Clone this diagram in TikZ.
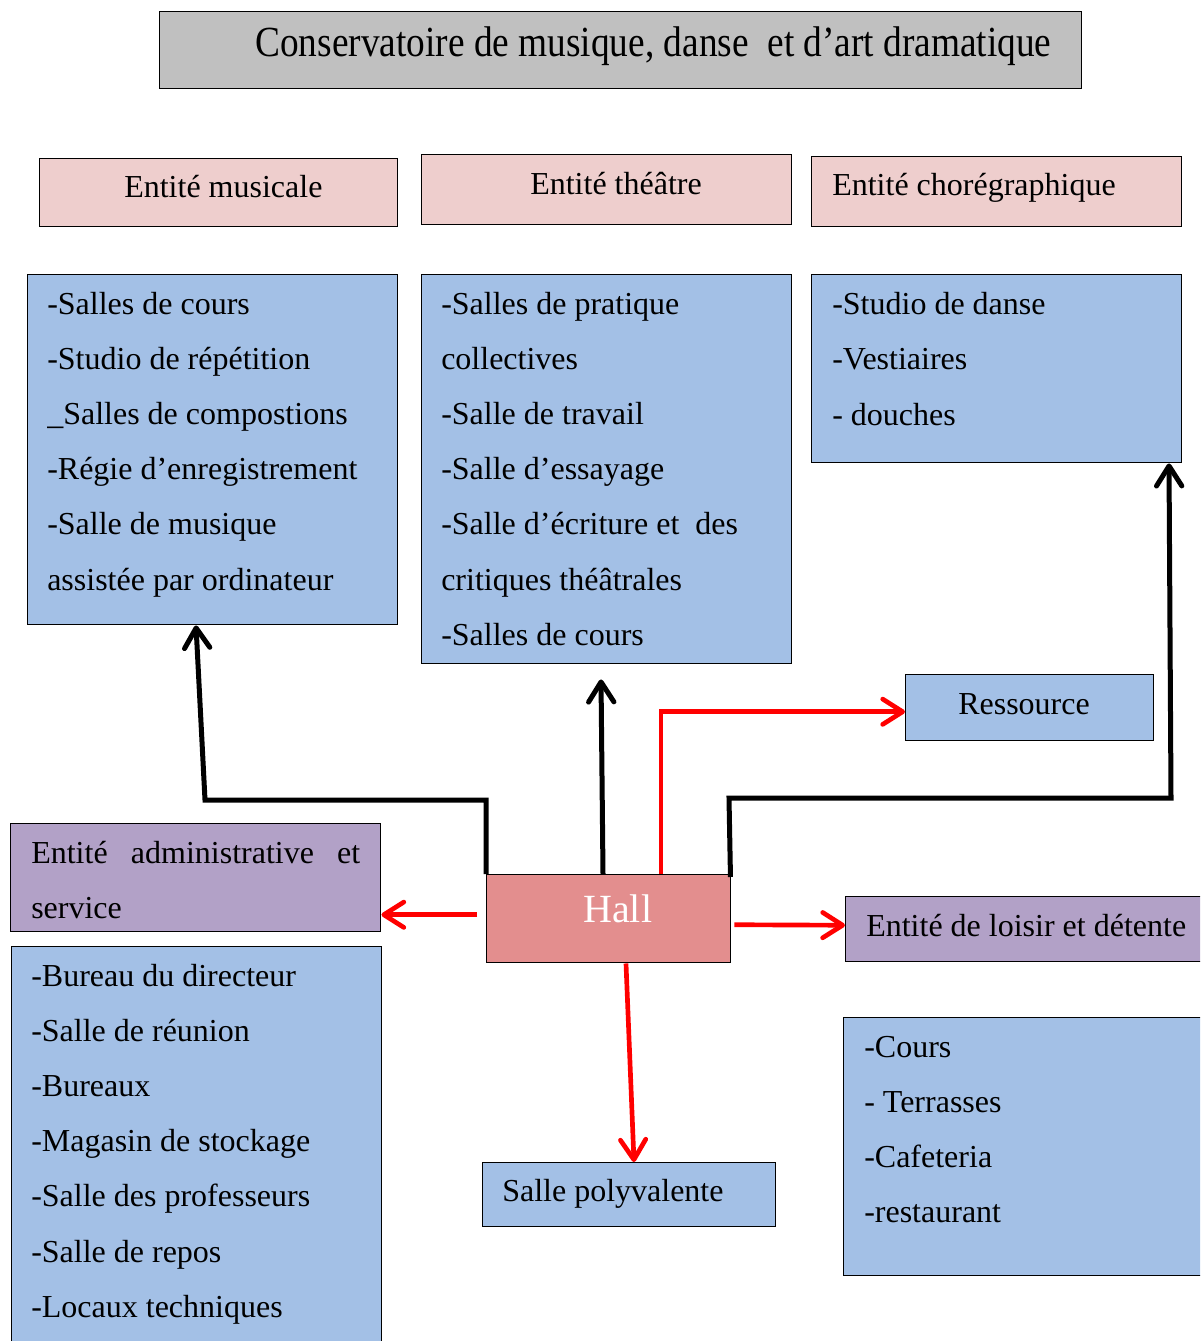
\documentclass[tikz,border=0pt]{standalone}
\usepackage{fontspec}
\setmainfont{Liberation Serif}
\usetikzlibrary{arrows.meta,calc}
\definecolor{titlegray}{RGB}{192,192,192}
\definecolor{headpink}{RGB}{238,206,205}
\definecolor{listblue}{RGB}{163,192,230}
\definecolor{adminpurple}{RGB}{178,161,199}
\definecolor{hallred}{RGB}{227,142,142}
\definecolor{linkred}{RGB}{255,0,0}

\begin{document}
\begin{tikzpicture}[x=0.75pt,y=-0.75pt,
  box/.style={draw=black, line width=1.1pt, inner sep=0pt, anchor=north west},
  sz/.style 2 args={minimum width={#1*0.75pt}, minimum height={#2*0.75pt}},
  txt/.style={font=\fontsize{24pt}{28pt}\selectfont, anchor=base west, inner sep=0pt},
  blk/.style={line width=3.75pt, draw=black,
    -{Straight Barb[length=15pt,width=19pt,round]}},
  rd/.style={line width=3.5pt, draw=linkred,
    -{Straight Barb[length=15pt,width=19pt,round]}}]

\useasboundingbox (0,0) rectangle (1200,1341);
\clip (0,0) rectangle (1200,1341);

% title
\node[box, fill=titlegray, sz={922}{77}] (title) at (159,11) {};
\node[txt, font=\fontsize{28pt}{32pt}\selectfont] (title-t) at (255,57)
  {\scalebox{1}[1.15]{Conservatoire de musique, danse\hspace{0.25em} et d’art dramatique}};

% entity headers
\node[box, fill=headpink, sz={358}{68}] (h-mus) at (39,158) {};
\node[txt] (h-mus-t) at (124,198) {Entité musicale};
\node[box, fill=headpink, sz={370}{70}] (h-the) at (421,154) {};
\node[txt] (h-the-t) at (530,195) {Entité théâtre};
\node[box, fill=headpink, sz={370}{70}] (h-cho) at (811,156) {};
\node[txt] (h-cho-t) at (832,196) {Entité chorégraphique};

% room lists
\node[box, fill=listblue, sz={370}{350}] (mus) at (27,274) {};
\foreach \t [count=\i from 0] in {-Salles de cours, -Studio de répétition,
    \_Salles de compostions, -Régie d’enregistrement, -Salle de musique,
    assistée par ordinateur}
  \node[txt] (mus-\i) at (47,{314+55.2*\i}) {\t};

\node[box, fill=listblue, sz={370}{389}] (the) at (421,274) {};
\foreach \t [count=\i from 0] in {-Salles de pratique, collectives,
    -Salle de travail, -Salle d’essayage, -Salle d’écriture et\ \ des,
    critiques théâtrales, -Salles de cours}
  \node[txt] (the-\i) at (441,{314+55.2*\i}) {\t};

\node[box, fill=listblue, sz={370}{188}] (cho) at (811,274) {};
\foreach \t [count=\i from 0] in {-Studio de danse, -Vestiaires, - douches}
  \node[txt] (cho-\i) at (832,{314+55.5*\i}) {\t};

\node[box, fill=listblue, sz={248}{66}] (res) at (905,674) {};
\node[txt] (res-t) at (958,714) {Ressource};

% administration
\node[box, fill=adminpurple, sz={370}{108}] (adm) at (10,823) {};
\node[txt] (adm-t1) at (31,863) {\makebox[246.75pt][s]{Entité administrative et}};
\node[txt] (adm-t2) at (31,918) {service};

\node[box, fill=listblue, sz={370}{420}] (admlist) at (11,946) {};
\foreach \t [count=\i from 0] in {-Bureau du directeur, -Salle de réunion,
    -Bureaux, -Magasin de stockage, -Salle des professeurs, -Salle de repos,
    -Locaux techniques}
  \node[txt] (adm-\i) at (31,{986+55.2*\i}) {\t};

% hall
\node[box, fill=hallred, sz={244}{88}] (hall) at (486,874) {};
\node[txt, text=white, font=\fontsize{30pt}{36pt}\selectfont] (hall-t) at (583,922) {Hall};

% leisure
\node[box, fill=adminpurple, sz={400}{65}] (loi) at (845,896) {};
\node[txt] (loi-t) at (866,936) {Entité de loisir et détente};
\node[box, fill=listblue, sz={400}{258}] (loilist) at (843,1017) {};
\foreach \t [count=\i from 0] in {-Cours, - Terrasses, -Cafeteria, -restaurant}
  \node[txt] (loi-\i) at (864,{1057+55.3*\i}) {\t};

% multipurpose room
\node[box, fill=listblue, sz={293}{64}] (poly) at (482,1162) {};
\node[txt] (poly-t) at (502,1201) {Salle polyvalente};

% black links from the hall to the three teaching entities
\draw[blk] (hall.north west) -- ($(hall.north west)+(0,-74)$) -- (205,800)
  -- ($(mus.south west)+(169,0)$);
\draw[blk] ($(hall.north west)+(117,0)$) -- ($(the.south west)+(180,15)$);
\draw[blk] ($(hall.north east)+(-1,3)$) -- (729,798) -- (1171,798)
  -- ($(cho.south west)+(358,0)$);

% red links
\draw[rd] ($(hall.north west)+(175,0)$) |- ($(res.west)+(0,4)$);
\draw[rd] ($(hall.west)+(-9,-4)$) -- ($(adm.east)+(0,37)$);
\draw[rd] ($(hall.east)+(3,6)$) -- ($(loi.west)+(0,-4)$);
\draw[rd] ($(hall.south west)+(140,0)$) -- ($(poly.north west)+(152,0)$);
\end{tikzpicture}
\end{document}
